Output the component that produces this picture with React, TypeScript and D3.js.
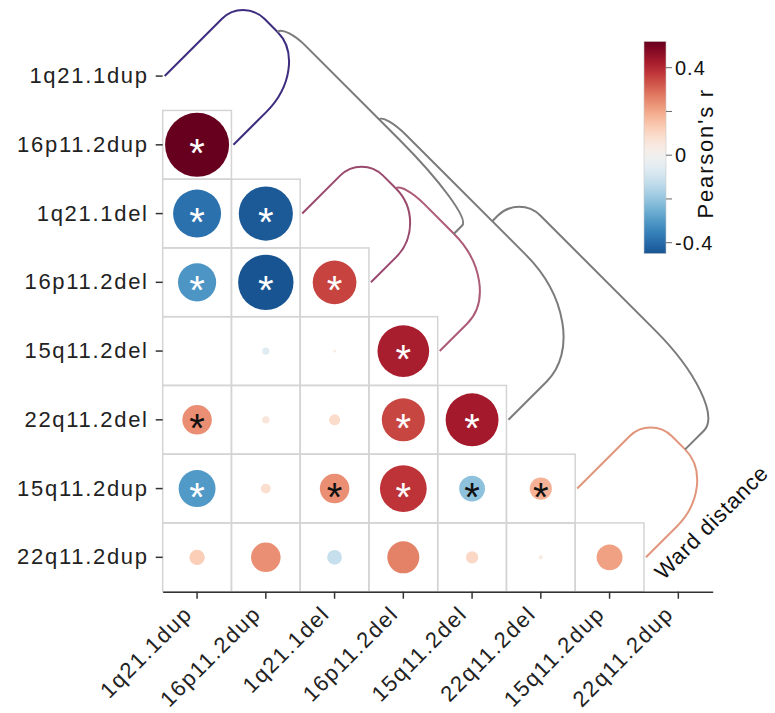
import React, { useRef, useEffect } from "react";
import * as d3 from "d3";

const cnvLabels = [
  "1q21.1dup",
  "16p11.2dup",
  "1q21.1del",
  "16p11.2del",
  "15q11.2del",
  "22q11.2del",
  "15q11.2dup",
  "22q11.2dup",
];

// lower triangle: row i holds r against columns 0..i-1
const pearsonRows = [
  [],
  [0.52],
  [-0.39, -0.44],
  [-0.31, -0.45, 0.355],
  [0.0, -0.06, 0.025, 0.42],
  [0.24, 0.06, 0.09, 0.35, 0.43],
  [-0.3, 0.08, 0.24, 0.38, -0.21, 0.18],
  [0.125, 0.24, -0.12, 0.26, 0.1, 0.035, 0.21],
];
const signifRows = [
  [],
  [1],
  [1, 1],
  [1, 1, 1],
  [0, 0, 0, 1],
  [1, 0, 0, 1, 1],
  [1, 0, 1, 1, 1, 1],
  [0, 0, 0, 0, 0, 0, 0],
];

// dendrogram merges, scipy style ids (0-7 leaves, 8+ clusters)
const mergeLeft = [2, 8, 6, 0, 11, 12, 13];
const mergeRight = [3, 4, 7, 1, 9, 5, 10];
const mergeHeight = [0.84, 0.93, 1.04, 1.11, 1.21, 1.29, 1.67];
const mergeColor = ["#9a496d", "#ac5b79", "#e1967c", "#3e2d7f", "#7b7b7b", "#7b7b7b", "#7b7b7b"];

const cbTicks = [0.4, 0.2, 0, -0.2, -0.4];
const cbTickLabels = ["0.4", "", "0", "", "-0.4"];

const FONT = "'Liberation Sans', Arial, Helvetica, sans-serif";

export default function App() {
  const svgRef = useRef<SVGSVGElement>(null);

  useEffect(() => {
    const svg = d3.select(svgRef.current);
    svg.selectAll("*").remove();

    const x0 = 162.7,
      y0 = 41.7,
      cell = 68.75;
    const n = cnvLabels.length;

    const x = d3.scaleBand().domain(cnvLabels).range([x0, x0 + n * cell]);
    const y = d3.scaleBand().domain(cnvLabels).range([y0, y0 + n * cell]);
    const bw = x.bandwidth();

    const allVals = pearsonRows.flat();
    const [vMin, vMax] = d3.extent(allVals) as [number, number];
    const vAbs = Math.max(Math.abs(vMin), Math.abs(vMax));
    const color = d3.scaleSequential(d3.interpolateRdBu).domain([vAbs, -vAbs]);
    const rScale = d3.scaleLinear().domain([0, vAbs]).range([0, 32]);

    // grid cells
    const cells = svg.append("g");
    pearsonRows.forEach((row, i) => {
      row.forEach((v, j) => {
        cells
          .append("rect")
          .attr("x", x(cnvLabels[j])!)
          .attr("y", y(cnvLabels[i])!)
          .attr("width", bw)
          .attr("height", bw)
          .attr("fill", "none")
          .attr("stroke", "#d4d4d4")
          .attr("stroke-width", 1.5);
      });
    });

    // circles + significance stars
    const dots = svg.append("g");
    pearsonRows.forEach((row, i) => {
      row.forEach((v, j) => {
        const cx = x(cnvLabels[j])! + bw / 2;
        const cy = y(cnvLabels[i])! + bw / 2;
        dots
          .append("circle")
          .attr("cx", cx)
          .attr("cy", cy)
          .attr("r", rScale(Math.abs(v)))
          .attr("fill", color(v));
        if (signifRows[i][j]) {
          dots
            .append("text")
            .attr("x", cx)
            .attr("y", cy + 22)
            .attr("text-anchor", "middle")
            .attr("font-family", FONT)
            .attr("font-size", 40)
            .attr("fill", Math.abs(v) > 0.27 ? "#ffffff" : "#111111")
            .text("*");
        }
      });
    });

    // axes
    const xAxis = svg
      .append("g")
      .attr("transform", `translate(0,${y0 + n * cell})`)
      .call(d3.axisBottom(x).tickSize(7).tickSizeOuter(0));
    xAxis.select(".domain").attr("stroke", "#333").attr("stroke-width", 1.5);
    xAxis.selectAll(".tick line").attr("stroke", "#333").attr("stroke-width", 1.5);
    xAxis
      .selectAll(".tick text")
      .attr("font-family", FONT)
      .attr("font-size", 22)
      .attr("letter-spacing", 1.7)
      .attr("fill", "#222")
      .attr("text-anchor", "end")
      .attr("y", 0)
      .attr("dy", "0.35em")
      .attr("transform", "translate(-9,18) rotate(-45)");

    const yAxis = svg
      .append("g")
      .attr("transform", `translate(${x0},0)`)
      .call(d3.axisLeft(y).tickSize(7).tickSizeOuter(0));
    yAxis.select(".domain").remove();
    yAxis.selectAll(".tick line").attr("stroke", "#333").attr("stroke-width", 1.5);
    yAxis
      .selectAll(".tick text")
      .attr("font-family", FONT)
      .attr("font-size", 22)
      .attr("letter-spacing", 1.7)
      .attr("fill", "#222")
      .attr("x", -14);

    // dendrogram in a frame rotated by 45 degrees along the diagonal
    const r2 = Math.SQRT1_2;
    const px0 = x0 + 2,
      py0 = y0 + bw / 2;
    const pt = (s: number, h: number): [number, number] => [
      px0 + (s + h) * r2,
      py0 + (s - h) * r2,
    ];
    const hScale = d3.scaleLinear().domain([0, 1]).range([0, 100]);
    const nodeS: number[] = cnvLabels.map((l) => (x(l)! - x0) / r2);
    const nodeH: number[] = cnvLabels.map(() => 0);

    // rounded corner: from point a past corner c towards point b
    const corner = (p: d3.Path, a: [number, number], c: [number, number], b: [number, number]) => {
      const k = 0.55;
      const A = pt(...a),
        C = pt(...c),
        B = pt(...b);
      p.lineTo(...A);
      p.bezierCurveTo(
        A[0] + k * (C[0] - A[0]),
        A[1] + k * (C[1] - A[1]),
        B[0] + k * (C[0] - B[0]),
        B[1] + k * (C[1] - B[1]),
        B[0],
        B[1]
      );
    };

    const dendro = svg.append("g").attr("fill", "none").attr("stroke-width", 2);
    mergeLeft.forEach((a, k) => {
      const b = mergeRight[k];
      const H = hScale(mergeHeight[k]);
      const sL = nodeS[a],
        sR = nodeS[b];
      const hL = nodeH[a],
        hR = nodeH[b];
      const half = (sR - sL) / 2;
      const aL = Math.min(30, H - hL),
        bL = Math.min(30, half);
      const aR = 0.58 * (H - hR),
        bR = Math.min(half, 105);
      const p = d3.path();
      p.moveTo(...pt(sL, hL));
      corner(p, [sL, H - aL], [sL, H], [sL + bL, H]);
      corner(p, [sR - bR, H], [sR, H], [sR, H - aR]);
      p.lineTo(...pt(sR, hR));
      dendro.append("path").attr("d", p.toString()).attr("stroke", mergeColor[k]);
      nodeS.push((sL + sR) / 2);
      nodeH.push(H);
    });

    const wardPos = pt(nodeS[n - 1] + 29, -4);
    svg
      .append("text")
      .attr("transform", `translate(${wardPos[0]},${wardPos[1]}) rotate(-45)`)
      .attr("font-family", FONT)
      .attr("font-size", 22)
      .attr("letter-spacing", 0.8)
      .attr("fill", "#111")
      .text("Ward distance");

    // colour bar
    const cbX = 644,
      cbW = 22;
    const cbY = d3.scaleLinear().domain([-0.4, 0.4]).range([242.7, 67.7]);
    const grad = svg
      .append("defs")
      .append("linearGradient")
      .attr("id", "cbgrad")
      .attr("x1", 0)
      .attr("y1", 1)
      .attr("x2", 0)
      .attr("y2", 0);
    d3.range(0, 1.0001, 0.05).forEach((t) => {
      const v = vMin + t * (vMax - vMin);
      grad.append("stop").attr("offset", t).attr("stop-color", color(v));
    });
    svg
      .append("rect")
      .attr("x", cbX)
      .attr("y", cbY(vMax))
      .attr("width", cbW)
      .attr("height", cbY(vMin) - cbY(vMax))
      .attr("fill", "url(#cbgrad)")
      .attr("stroke", "#c8c8c8")
      .attr("stroke-width", 0.6);
    const cb = svg.append("g");
    cbTicks.forEach((t, i) => {
      cb.append("line")
        .attr("x1", cbX + cbW)
        .attr("x2", cbX + cbW + 6)
        .attr("y1", cbY(t))
        .attr("y2", cbY(t))
        .attr("stroke", "#666")
        .attr("stroke-width", 1);
      if (cbTickLabels[i])
        cb.append("text")
          .attr("x", cbX + cbW + 9)
          .attr("y", cbY(t))
          .attr("dy", "0.35em")
          .attr("font-family", FONT)
          .attr("font-size", 20)
          .attr("letter-spacing", 1)
          .attr("fill", "#111")
          .text(cbTickLabels[i]);
    });
    svg
      .append("text")
      .attr("transform", `translate(713,${cbY(0) - 2}) rotate(-90)`)
      .attr("text-anchor", "middle")
      .attr("font-family", FONT)
      .attr("font-size", 22)
      .attr("letter-spacing", 1.8)
      .attr("fill", "#111")
      .text("Pearson's r");
  }, []);

  return (
    <svg
      ref={svgRef}
      width={775}
      height={713}
      style={{ position: "absolute", left: 0, top: 0, display: "block" }}
    ></svg>
  );
}
